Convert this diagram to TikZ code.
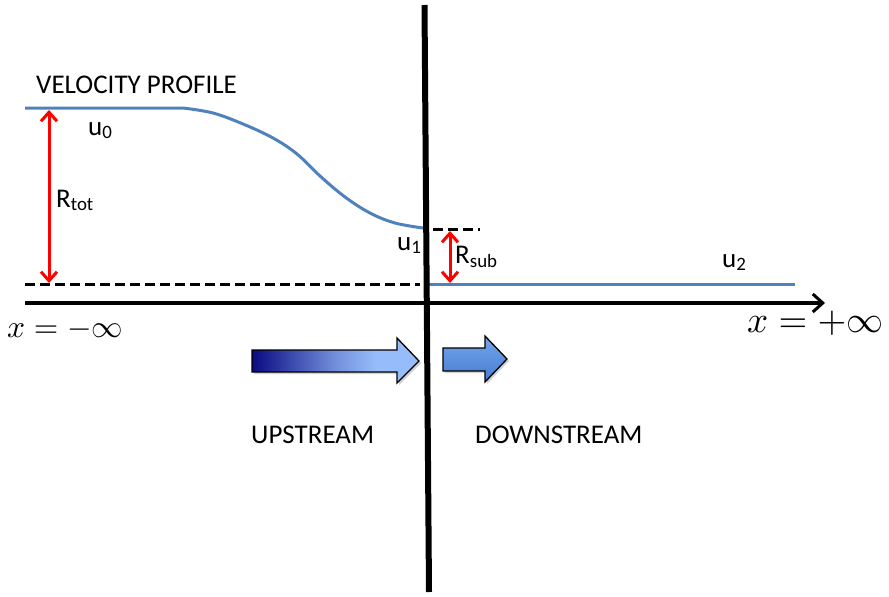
\documentclass[tikz,border=0pt]{standalone}
\usepackage{graphicx}
\usepackage{fontspec}
\setmainfont{Carlito}
\usetikzlibrary{arrows.meta}
\definecolor{profblue}{HTML}{4F81BD}
\definecolor{navy}{RGB}{10,10,130}
\definecolor{lightb}{RGB}{150,188,250}
\definecolor{smtop}{RGB}{115,165,235}
\definecolor{smbot}{RGB}{70,125,210}
\pgfdeclarehorizontalshading{upgrad}{100bp}{color(0bp)=(navy); color(25bp)=(navy); color(50bp)=(lightb!75!navy); color(62bp)=(lightb); color(100bp)=(lightb)}
\tikzset{
  lbl/.style={font=\fontsize{27}{31}\selectfont, inner sep=0pt},
  mathlbl/.style={inner sep=0pt},
  prof/.style={profblue, line width=3pt},
  dash line/.style={black, line width=3pt, dash pattern=on 10pt off 5pt},
  redarr/.style={red, line width=3pt, {Straight Barb[length=9pt,width=16pt,line width=3pt]}-{Straight Barb[length=9pt,width=16pt,line width=3pt]}},
  bigarrow/.style={draw=black, line width=1.3pt, line join=miter}
}
\begin{document}
\begin{tikzpicture}[x=1pt,y=-1pt]
\useasboundingbox (0,0) rectangle (889,597);
% coordinates
\coordinate (vtop) at (424.5,5);
\coordinate (vbot) at (429,592);
\coordinate (axL) at (25,303);
\coordinate (axR) at (825,303);
\coordinate (dL) at (25,284);
\coordinate (dR) at (420,284);
\coordinate (sdL) at (433,229);
\coordinate (sdR) at (480,229);
\coordinate (bL) at (428,284);
\coordinate (bR) at (795,284);
\coordinate (rtT) at (49,110);
\coordinate (rtB) at (49,283);
\coordinate (rsT) at (450,231);
\coordinate (rsB) at (450,283);
% velocity profile upstream
\draw[prof] (25,108) -- (183,108)
  plot[smooth, tension=0.6] coordinates {(183,108) (213,113) (243,124) (273,138) (297,154) (320,176) (345,197) (370,213) (395,223) (423,228)};
% downstream profile
\draw[prof] (bL) -- (bR);
% dashed lines
\draw[dash line] (dL) -- (dR);
\draw[dash line] (sdL) -- (sdR);
% axis
\draw[line width=3.2pt, -{Straight Barb[length=10pt,width=18pt,line width=3pt]}] (axL) -- (axR);
% vertical line
\draw[line width=6pt] (vtop) -- (vbot);
% red arrows
\draw[redarr] (rtT) -- (rtB);
\draw[redarr] (rsT) -- (rsB);
% gradient arrow
\fill[black!18] (254,352) -- (399,352) -- (399,340) -- (421,363) -- (399,385) -- (399,374) -- (254,374) -- cycle;
\path[shading=upgrad, bigarrow] (252,350) -- (397,350) -- (397,338) -- (419,361) -- (397,383) -- (397,372) -- (252,372) -- cycle;
% small arrow
\fill[black!18] (445,350) -- (487,350) -- (487,338) -- (509,361) -- (487,384) -- (487,373) -- (445,373) -- cycle;
\path[top color=smtop, bottom color=smbot, bigarrow] (443,348) -- (485,348) -- (485,336) -- (507,359) -- (485,382) -- (485,371) -- (443,371) -- cycle;
% labels
\node[lbl, anchor=base west] (vp) at (36,93) {VELOCITY PROFILE};
\node[lbl, anchor=base west] (u0) at (88,135) {u\textsubscript{0}};
\node[lbl, anchor=base west] (rtot) at (56,207) {R\textsubscript{tot}};
\node[lbl, anchor=base west] (u1) at (397,250) {u\textsubscript{1}};
\node[lbl, anchor=base west] (rsub) at (455,263) {R\textsubscript{sub}};
\node[lbl, anchor=base west] (u2) at (722,267) {u\textsubscript{2}};
\node[lbl, anchor=base west] (up) at (251,443) {UPSTREAM};
\node[lbl, anchor=base west] (down) at (475,443) {DOWNSTREAM};
\node[mathlbl, anchor=base west] (xm) at (7,337) {\scalebox{3.15}{$x=-\infty$}};
\node[mathlbl, anchor=base west] (xp) at (747,332) {\scalebox{3.7}{$x=+\infty$}};
\end{tikzpicture}
\end{document}
